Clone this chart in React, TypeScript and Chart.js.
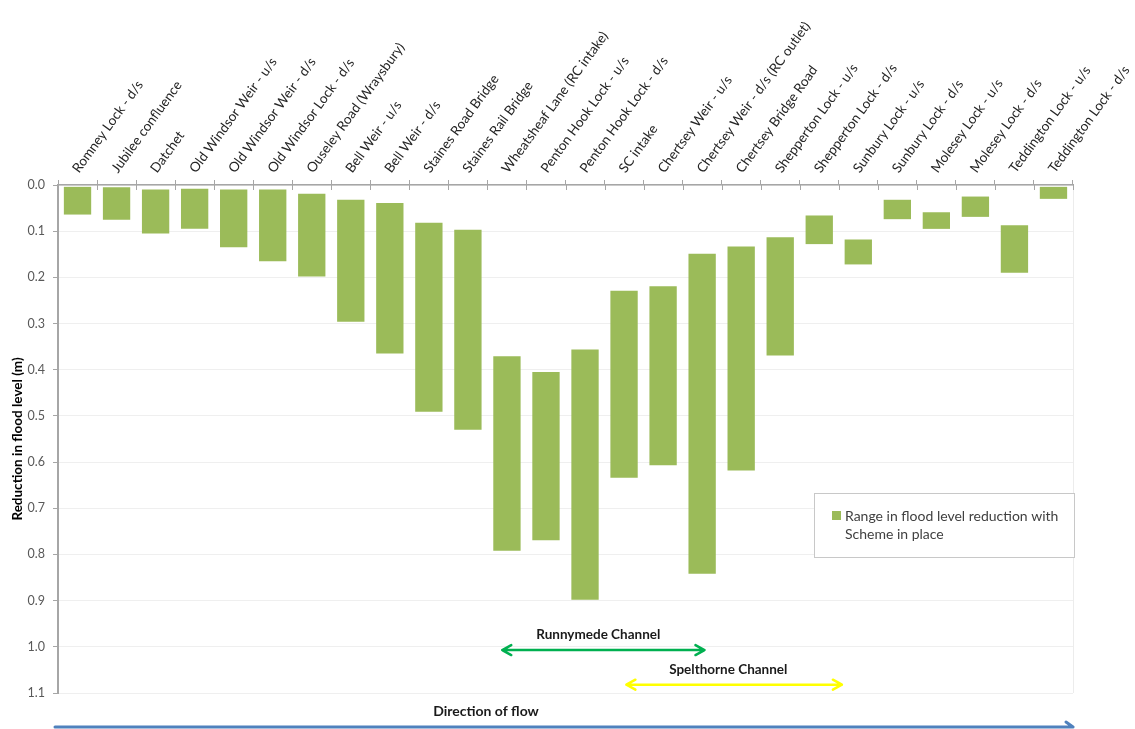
import React, { useEffect, useRef } from 'react';
import { Chart, registerables } from 'chart.js';

Chart.register(...registerables);

const categories = [
  'Romney Lock - d/s',
  'Jubilee confluence',
  'Datchet',
  'Old Windsor Weir - u/s',
  'Old Windsor Weir - d/s',
  'Old Windsor Lock - d/s',
  'Ouseley Road (Wraysbury)',
  'Bell Weir - u/s',
  'Bell Weir - d/s',
  'Staines Road Bridge',
  'Staines Rail Bridge',
  'Wheatsheaf Lane (RC intake)',
  'Penton Hook Lock - u/s',
  'Penton Hook Lock - d/s',
  'SC intake',
  'Chertsey Weir - u/s',
  'Chertsey Weir - d/s (RC outlet)',
  'Chertsey Bridge Road',
  'Shepperton Lock - u/s',
  'Shepperton Lock - d/s',
  'Sunbury Lock - u/s',
  'Sunbury Lock - d/s',
  'Molesey Lock - u/s',
  'Molesey Lock - d/s',
  'Teddington Lock - u/s',
  'Teddington Lock - d/s',
];

// smallest reduction in flood level (m)
const minReduction = [
  0.004, 0.005, 0.010, 0.008, 0.010, 0.010, 0.019, 0.032, 0.039, 0.082, 0.097,
  0.371, 0.405, 0.356, 0.229, 0.219, 0.149, 0.133, 0.113, 0.066, 0.118, 0.032,
  0.059, 0.025, 0.087, 0.004,
];

// largest reduction in flood level (m)
const maxReduction = [
  0.064, 0.075, 0.105, 0.095, 0.135, 0.165, 0.198, 0.296, 0.365, 0.491, 0.530,
  0.792, 0.769, 0.898, 0.634, 0.607, 0.842, 0.618, 0.369, 0.128, 0.172, 0.074,
  0.095, 0.069, 0.190, 0.030,
];

const seriesLabel = 'Range in flood level reduction with Scheme in place';
const legendLines = ['Range in flood level reduction with', 'Scheme in place'];
const yTitle = 'Reduction in flood level (m)';

// channel annotations: extent along the category axis, level on the value axis
const channelNames = ['Runnymede Channel', 'Spelthorne Channel'];
const channelStart = [10.88, 14.06];
const channelEnd = [16.06, 19.58];
const channelArrowLevel = [1.007, 1.082];
const channelTextLevel = [0.973, 1.05];
const channelTextPos = [13.34, 16.67];
const channelColors = ['#00b050', '#ffff00'];

const flowLabel = 'Direction of flow';

const FONT = 'Lato, "Open Sans", "Liberation Sans", sans-serif';
const BAR_COLOR = '#9bbb59';

function drawDoubleArrow(ctx: CanvasRenderingContext2D, x1: number, x2: number, y: number, color: string) {
  ctx.save();
  ctx.strokeStyle = color;
  ctx.lineWidth = 2.5;
  ctx.lineCap = 'round';
  ctx.lineJoin = 'round';
  ctx.beginPath();
  ctx.moveTo(x1, y);
  ctx.lineTo(x2, y);
  ctx.moveTo(x1 + 9, y - 5);
  ctx.lineTo(x1, y);
  ctx.lineTo(x1 + 9, y + 5);
  ctx.moveTo(x2 - 9, y - 5);
  ctx.lineTo(x2, y);
  ctx.lineTo(x2 - 9, y + 5);
  ctx.stroke();
  ctx.restore();
}

const decorPlugin = {
  id: 'decor',
  afterDraw(chart: any) {
    const { ctx, chartArea, scales } = chart;
    const x = scales.x;
    const y = scales.y;
    ctx.save();

    // right border of plot area
    ctx.strokeStyle = '#ececec';
    ctx.lineWidth = 1;
    ctx.beginPath();
    ctx.moveTo(chartArea.right + 0.5, chartArea.top);
    ctx.lineTo(chartArea.right + 0.5, chartArea.bottom);
    ctx.stroke();

    // inner halves of the category tick marks
    ctx.strokeStyle = '#a6a6a6';
    ctx.beginPath();
    for (let i = 0; i <= categories.length; i++) {
      const px = Math.round(x.getPixelForValue(i - 0.5)) + 0.5;
      ctx.moveTo(px, chartArea.top);
      ctx.lineTo(px, chartArea.top + 5);
    }
    ctx.stroke();

    // channel annotations
    for (let i = 0; i < channelNames.length; i++) {
      const x1 = x.getPixelForValue(channelStart[i]);
      const x2 = x.getPixelForValue(channelEnd[i]);
      const yy = y.getPixelForValue(channelArrowLevel[i]);
      drawDoubleArrow(ctx, x1, x2, yy, channelColors[i]);
      ctx.fillStyle = '#1a1a1a';
      ctx.font = `bold 13.5px ${FONT}`;
      ctx.textAlign = 'center';
      ctx.textBaseline = 'middle';
      ctx.fillText(channelNames[i], x.getPixelForValue(channelTextPos[i]), y.getPixelForValue(channelTextLevel[i]));
    }

    // legend box
    const lx = chartArea.right - 259;
    const ly = chartArea.top + 308;
    const lw = 260;
    const lh = 64;
    ctx.fillStyle = '#ffffff';
    ctx.fillRect(lx, ly, lw, lh);
    ctx.strokeStyle = '#c8c8c8';
    ctx.lineWidth = 1;
    ctx.strokeRect(lx + 0.5, ly + 0.5, lw, lh);
    ctx.fillStyle = BAR_COLOR;
    ctx.fillRect(lx + 18, ly + 18, 9, 9);
    ctx.fillStyle = '#404040';
    ctx.font = `14px ${FONT}`;
    ctx.textAlign = 'left';
    ctx.textBaseline = 'middle';
    ctx.fillText(legendLines[0], lx + 31, ly + 23);
    ctx.fillText(legendLines[1], lx + 31, ly + 41);

    // direction of flow
    ctx.fillStyle = '#1a1a1a';
    ctx.font = `bold 14px ${FONT}`;
    ctx.textAlign = 'center';
    ctx.fillText(flowLabel, 486, chartArea.bottom + 18);
    ctx.strokeStyle = '#4f81bd';
    ctx.lineWidth = 3;
    ctx.lineCap = 'round';
    ctx.beginPath();
    ctx.moveTo(55, chartArea.bottom + 34);
    ctx.lineTo(chartArea.right, chartArea.bottom + 34);
    ctx.moveTo(chartArea.right - 7, chartArea.bottom + 29);
    ctx.lineTo(chartArea.right, chartArea.bottom + 34);
    ctx.stroke();

    ctx.restore();
  },
};

export default function App() {
  const canvasRef = useRef<HTMLCanvasElement | null>(null);

  useEffect(() => {
    const canvas = canvasRef.current;
    if (!canvas) return;
    const chart = new Chart(canvas, {
      type: 'bar',
      data: {
        labels: categories,
        datasets: [
          {
            label: seriesLabel,
            data: categories.map((_, i) => [minReduction[i], maxReduction[i]]) as any,
            backgroundColor: BAR_COLOR,
            borderWidth: 0,
            barPercentage: 0.7,
            categoryPercentage: 1,
          },
        ],
      },
      options: {
        animation: false,
        responsive: false,
        maintainAspectRatio: false,
        devicePixelRatio: 1,
        layout: { padding: { left: 0, top: 0, right: 62, bottom: 36 } },
        plugins: {
          legend: { display: false },
          tooltip: { enabled: false },
        },
        scales: {
          x: {
            position: 'top',
            offset: true,
            grid: {
              display: true,
              drawOnChartArea: false,
              offset: true,
              tickLength: 5,
              color: '#a6a6a6',
            },
            border: { display: true, color: '#a6a6a6', width: 1.5 },
            ticks: {
              autoSkip: false,
              minRotation: 54,
              maxRotation: 54,
              padding: 4,
              labelOffset: 11,
              color: '#262626',
              font: { family: FONT, size: 13.5 },
            },
            afterFit: (scale: any) => {
              scale.height = 185;
              scale.paddingLeft = 0;
              scale.paddingRight = 0;
            },
          },
          y: {
            reverse: true,
            min: 0,
            max: 1.1,
            ticks: {
              stepSize: 0.1,
              padding: 8,
              color: '#595959',
              font: { family: FONT, size: 12.5 },
              callback: (v: any) => Number(v).toFixed(1),
            },
            grid: { color: '#efefef', tickColor: '#a6a6a6', tickLength: 5 },
            border: { color: '#a6a6a6', width: 2 },
            title: {
              display: true,
              text: yTitle,
              color: '#000000',
              font: { family: FONT, size: 13.5, weight: 'bold' },
              padding: { top: 10, bottom: 0 },
            },
            afterFit: (scale: any) => {
              scale.width = 58;
              scale.paddingTop = 0;
              scale.paddingBottom = 0;
            },
          },
        },
      },
      plugins: [decorPlugin],
    });
    return () => chart.destroy();
  }, []);

  return (
    <div style={{ position: 'absolute', left: 0, top: 0, width: 1135, height: 729, background: '#ffffff' }}>
      <canvas ref={canvasRef} width={1135} height={729} style={{ display: 'block' }} />
    </div>
  );
}
